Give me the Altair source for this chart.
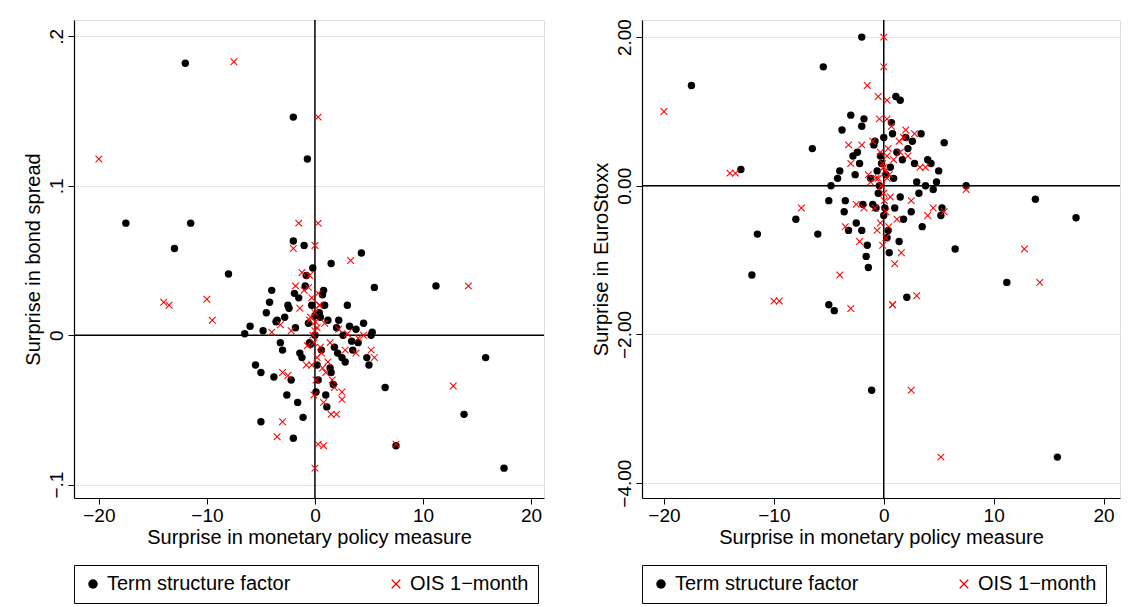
import altair as alt
import pandas as pd

# Term structure factor: monetary surprise, bond spread surprise, EuroStoxx surprise
ts_x = [-12, -17.5, -11.5, -13, -8, -2, -0.7, 17.5, 15.8, 13.8, 11.2, 7.5, 6.5, 5.5,
        4.3, 1.5, -2, -5, -2, -5.5, -6.5, -4, -3.5, -3, -2.5, -2.2, -1.8, -1.5, -1.2,
        -1, -0.8, -0.5, -0.3, 0, 0.2, 0.4, 0.6, 0.8, 1, 1.2, 1.5, 2, 2.5, 3, 3.5, 4,
        4.5, 5, 5.2, -4.5, -3.8, -2.8, -1.6, -0.9, 0.3, 0.9, 1.8, 2.8, 3.8, -5, -4.2,
        -3.2, -2.4, -1.4, -0.6, 0.1, 0.7, 1.4, 2.2, 3.2, 4.8, -1.1, -0.2, 0.5, 1.1,
        -2.6, -3.6, 2.6, -0.4, 0.0, -1.9, 1.7, 3.4, -4.8, 5.3, -6, 2.1]
ts_bond = [0.182, 0.075, 0.075, 0.058, 0.041, 0.146, 0.118, -0.089, -0.015, -0.053,
           0.033, -0.074, -0.035, 0.032, 0.055, 0.048, 0.063, -0.058, -0.069, -0.02,
           0.001, 0.03, 0.01, -0.01, 0.02, -0.03, 0.005, 0.025, -0.015, 0.06, 0.04,
           -0.005, 0.02, 0.0, -0.02, 0.015, -0.01, 0.03, -0.04, 0.01, -0.025, 0.005,
           -0.015, 0.02, -0.01, -0.005, 0.008, -0.02, 0.0, 0.015, -0.028, 0.012,
           -0.045, 0.033, -0.03, 0.02, -0.008, -0.018, 0.004, -0.025, 0.022, -0.005,
           0.018, -0.012, 0.008, -0.038, 0.027, -0.022, 0.01, 0.006, -0.015, -0.055,
           0.045, 0.012, -0.048, -0.04, 0.009, 0.0, -0.006, 0.013, 0.028, -0.033,
           -0.004, 0.003, 0.002, 0.006, -0.012]
ts_stoxx = [-1.2, 1.35, -0.65, 0.22, -0.45, 2.0, -0.3, -0.43, -3.65, -0.18, -1.3,
            0.0, -0.85, 0.58, 0.3, 1.15, 0.8, -1.6, -0.6, 1.6, 0.5, 0.2, -0.2, 0.95,
            -0.5, 0.3, 0.9, -0.8, 0.1, -0.25, 0.6, -0.1, 0.4, -0.4, 0.15, -0.6, 0.25,
            0.7, -0.3, 0.45, -0.15, 0.65, -0.35, 0.05, -0.55, 0.35, -0.05, 0.2, -0.4,
            -1.68, 0.75, 0.4, -0.95, 0.55, -0.7, 0.1, -0.45, 0.3, 0.0, -0.2, 0.1,
            -0.6, 0.45, -1.1, 0.2, -0.3, 0.85, -0.75, 0.5, -0.1, 0.05, -2.75, 0.3,
            -0.9, 1.2, 0.15, -0.35, 0.6, 0.0, 0.65, -0.25, 0.35, 0.7, 0.0, -0.3,
            -0.65, -1.5]

# OIS 1-month
ois_x = [-20, -7.5, -14, -10, 0.3, 14.2, 12.8, 7.5, -1.5, 0.3, 3.3, 0, 0.3, 0.8,
         -3.5, -3, 2, 1.5, 2.5, 5.5, -13.5, -9.5, -3, 0, -0.5, 2.5, 5.2, 3, 0.8,
         -1, -0.8, -0.5, -0.3, -0.1, 0, 0.1, 0.2, 0.4, 0.6, 0.9, 1.2, -1.2, -2,
         -2.5, 1.8, 4, -0.2, 0.5, -0.6, 0.7, -1.8, 1.4, -0.4, 0.2, 0, -0.1, 0.3,
         2.8, -2.2, 3.8, 4.5, -4, 1, -1.4, 0.05, -0.3, 0.45, -0.7, 1.6, 2.2, -3.2]
ois_bond = [0.118, 0.183, 0.022, 0.024, 0.146, 0.033, -0.034, -0.073, 0.075, 0.075,
            0.05, -0.089, -0.073, -0.074, -0.068, -0.058, -0.053, -0.053, -0.043,
            -0.015, 0.02, 0.01, -0.025, 0.06, 0.04, -0.038, -0.01, 0.001, -0.045,
            0.03, -0.02, 0.01, 0.025, -0.005, 0.015, -0.03, 0.005, 0.02, -0.012,
            0.008, -0.018, 0.042, 0.058, -0.027, -0.035, -0.002, 0.0, -0.008,
            0.032, -0.022, 0.033, -0.005, 0.012, -0.015, 0.003, -0.04, 0.028,
            -0.01, 0.003, -0.012, 0.0, 0.002, -0.025, 0.018, 0.009, -0.02, 0.02,
            -0.007, -0.03, 0.004, 0.007]
ois_stoxx = [1.0, -0.3, 0.17, -1.55, 0.9, -1.3, -0.85, -0.05, 1.35, 1.15, 0.25,
             2.0, 0.4, -1.6, -0.55, 0.3, 0.75, 0.45, -0.2, -0.35, 0.17, -1.55,
             -1.65, 1.6, 1.2, -2.75, -3.65, -1.48, -1.6, 0.6, -0.3, 0.1, -0.5,
             0.3, -0.1, 0.2, -0.7, 0.5, -0.15, 0.35, -0.45, 0.05, 0.55, -0.25,
             0.65, -0.4, 0.0, 0.15, -0.6, 0.8, -0.3, 0.6, 0.9, -0.35, 0.25, -0.8,
             0.1, 0.7, -0.75, 0.25, -0.3, -1.2, -1.05, 0.15, -0.2, 0.45, -0.55,
             0.1, -0.9, 0.4, 0.55]

SERIES = ["Term structure factor", "OIS 1\u2212month"]
X_SHAPE = ("M-1,-0.8L-0.8,-1L0,-0.2L0.8,-1L1,-0.8L0.2,0L1,0.8L0.8,1L0,0.2"
           "L-0.8,1L-1,0.8L-0.2,0Z")
FONT = "Liberation Sans"
AXIS_STYLE = dict(labelFont=FONT, titleFont=FONT, labelFontSize=19,
                  titleFontSize=20, titleFontWeight="normal",
                  labelColor="black", titleColor="black", domainColor="black",
                  tickColor="black", domainWidth=1.2, tickSize=6)


def panel(ts_y, ois_y, ytitle, ydomain, yticks, ylabel_expr, xdomain, width):
  df = pd.concat([
      pd.DataFrame({"x": ts_x, "y": ts_y, "series": SERIES[0]}),
      pd.DataFrame({"x": ois_x, "y": ois_y, "series": SERIES[1]}),
  ])
  pts = (
      alt.Chart(df)
      .mark_point(filled=True, opacity=1, size=55)
      .encode(
          x=alt.X("x:Q", title="Surprise in monetary policy measure",
                  scale=alt.Scale(domain=xdomain, nice=False),
                  axis=alt.Axis(values=[-20, -10, 0, 10, 20], grid=False,
                                titlePadding=2, **AXIS_STYLE)),
          y=alt.Y("y:Q", title=ytitle,
                  scale=alt.Scale(domain=ydomain, nice=False),
                  axis=alt.Axis(values=yticks, labelAngle=-90,
                                labelAlign="center", labelBaseline="bottom",
                                labelExpr=ylabel_expr, grid=True,
                                gridColor="#dfe8e8", titlePadding=4,
                                **AXIS_STYLE)),
          color=alt.Color("series:N",
                          scale=alt.Scale(domain=SERIES, range=["black", "red"]),
                          legend=alt.Legend(title=None, orient="bottom",
                                            direction="horizontal",
                                            strokeColor="black", padding=9,
                                            labelFontSize=20, labelFont=FONT,
                                            labelColor="black",
                                            columnPadding=95, symbolSize=90,
                                            offset=18, labelLimit=400)),
          shape=alt.Shape("series:N",
                          scale=alt.Scale(domain=SERIES,
                                          range=["circle", X_SHAPE]),
                          legend=None),
      )
  )
  vline = alt.Chart(pd.DataFrame({"v": [0]})).mark_rule(
      color="black", strokeWidth=1.5).encode(x="v:Q")
  hline = alt.Chart(pd.DataFrame({"v": [0]})).mark_rule(
      color="black", strokeWidth=1.5).encode(y="v:Q")
  return alt.layer(vline, hline, pts).properties(width=width, height=478)


left = panel(ts_bond, ois_bond, "Surprise in bond spread", [-0.109, 0.211],
             [-0.1, 0, 0.1, 0.2],
             "replace(format(datum.value, '.1~f'), '0.', '.')", [-22.3, 21.2],
             470)
right = panel(ts_stoxx, ois_stoxx, "Surprise in EuroStoxx", [-4.2, 2.23],
              [-4, -2, 0, 2], "format(datum.value, '.2f')", [-22, 21.5], 478)

chart = (
    alt.hconcat(left, right, spacing=44)
    .resolve_scale(color="independent", shape="independent", x="independent",
                   y="independent")
    .properties(padding={"left": 14, "top": 10, "right": 0, "bottom": 0})
    .configure_view(stroke=None)
    .configure(background="white")
)
chart.save("out.html", embed_options={"renderer": "svg", "actions": False})
